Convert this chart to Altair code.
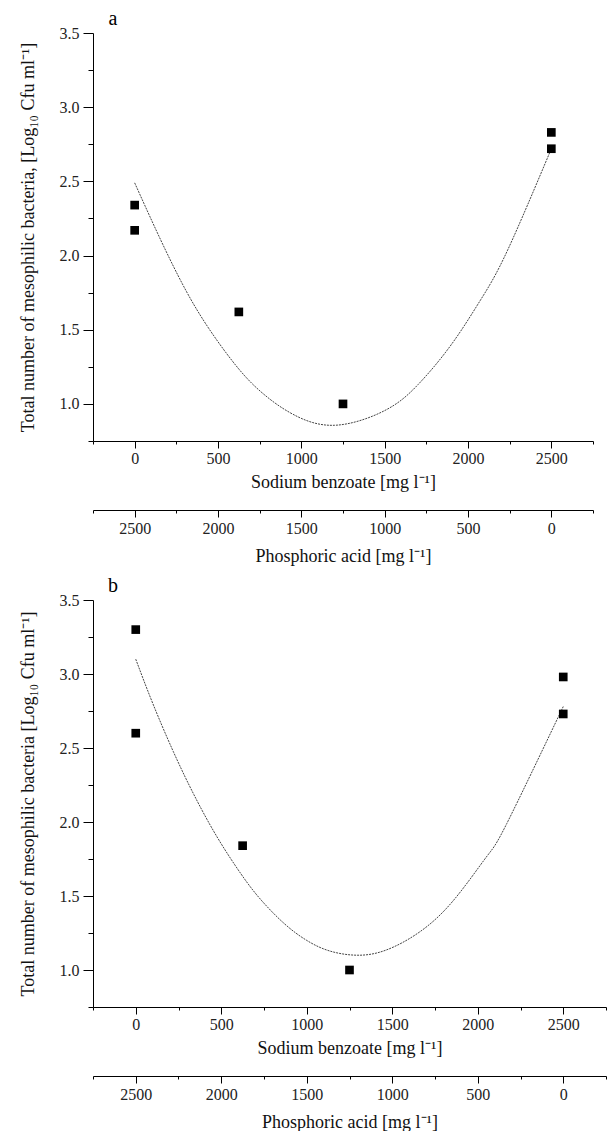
import altair as alt
import pandas as pd

# ---------------- data ----------------
# Panel a
sodium_a = [0, 0, 625, 1250, 2500, 2500]
count_a = [2.34, 2.17, 1.62, 1.00, 2.83, 2.72]
curve_a_x = [0, 150, 300, 450, 625, 775, 950, 1200, 1500, 1700, 1900, 2075, 2235, 2500]
curve_a_y = [2.49, 2.12, 1.78, 1.50, 1.235, 1.065, 0.93, 0.856, 0.955, 1.13, 1.40, 1.70, 2.03, 2.72]

# Panel b
sodium_b = [0, 0, 625, 1250, 2500, 2500]
count_b = [3.30, 2.60, 1.84, 1.00, 2.98, 2.73]
curve_b_x = [0, 100, 220, 340, 475, 615, 730, 870, 1000, 1130, 1290, 1460, 1660, 1860, 2050, 2170, 2500]
curve_b_y = [3.10, 2.80, 2.475, 2.185, 1.90, 1.65, 1.477, 1.312, 1.20, 1.13, 1.10, 1.133, 1.257, 1.473, 1.763, 1.99, 2.78]

# Axis ticks
sodium_ticks = [-250, 0, 250, 500, 750, 1000, 1250, 1500, 1750, 2000, 2250, 2500, 2750]
phos_ticks = [2750, 2500, 2250, 2000, 1750, 1500, 1250, 1000, 750, 500, 250, 0, -250]
count_ticks = [0.75, 1.0, 1.25, 1.5, 1.75, 2.0, 2.25, 2.5, 2.75, 3.0, 3.25, 3.5]

ytitle_a = "Total number of mesophilic bacteria, [Log₁₀ Cfu ml⁻¹]"
ytitle_b = "Total number of mesophilic bacteria [Log₁₀ Cfu ml⁻¹]"
xtitle = "Sodium benzoate [mg  l⁻¹]"
phostitle = "Phosphoric acid [mg  l⁻¹]"

FONT = "Liberation Serif"


def panel(sodium, counts, cx, cy, letter, ytitle, width, height):
    pts = pd.DataFrame({"sodium": sodium, "count": counts})
    crv = pd.DataFrame({"sodium": cx, "count": cy})
    phos = pd.DataFrame({"phos": phos_ticks})

    xscale = alt.Scale(domain=[-250, 2750], nice=False, zero=False)
    yscale = alt.Scale(domain=[0.75, 3.5], nice=False, zero=False)

    xaxis = alt.Axis(
        values=sodium_ticks,
        labelExpr="datum.value % 500 === 0 ? datum.label : ''",
        format="d",
        tickSize={"condition": {"test": "datum.value % 500 === 0", "value": 7}, "value": 3},
        labelPadding=2,
        titlePadding=7,
        title=xtitle,
        grid=False,
    )
    yaxis = alt.Axis(
        values=count_ticks,
        format=".1f",
        labelExpr="(datum.value * 4) % 2 === 0 ? datum.label : ''",
        tickSize={"condition": {"test": "(datum.value * 4) % 2 === 0", "value": 10}, "value": 5},
        labelPadding=4,
        titlePadding=22,
        title=ytitle,
        grid=False,
    )

    x_enc = alt.X("sodium:Q", scale=xscale, axis=xaxis)
    y_enc = alt.Y("count:Q", scale=yscale, axis=yaxis)

    line = alt.Chart(crv).mark_line(
        color="#444444", strokeWidth=1, strokeDash=[2, 1], interpolate="natural"
    ).encode(x=x_enc, y=y_enc)

    points = alt.Chart(pts).mark_square(size=75, color="black", opacity=1).encode(
        x=x_enc, y=y_enc
    )

    label = alt.Chart(pd.DataFrame({"t": [letter]})).mark_text(
        font=FONT, fontSize=20, color="black", align="center", baseline="middle"
    ).encode(text="t:N", x=alt.value(20), y=alt.value(-14))

    base = alt.layer(line, points, label)

    phos_layer = alt.Chart(phos).mark_point(opacity=0).encode(
        x=alt.X(
            "phos:Q",
            scale=alt.Scale(domain=[-250, 2750], reverse=True, nice=False, zero=False),
            axis=alt.Axis(
                orient="bottom",
                offset=69,
                values=phos_ticks,
                format="d",
                labelExpr="datum.value % 500 === 0 ? datum.label : ''",
                tickSize={"condition": {"test": "datum.value % 500 === 0", "value": 7}, "value": 3},
                labelPadding=3,
                titlePadding=11,
                title=phostitle,
                grid=False,
            ),
        ),
        y=alt.value(0),
    )

    return (
        alt.layer(base, phos_layer)
        .resolve_scale(x="independent")
        .properties(width=width, height=height)
    )


top = panel(sodium_a, count_a, curve_a_x, curve_a_y, "a", ytitle_a, 500, 408)
bottom = panel(sodium_b, count_b, curve_b_x, curve_b_y, "b", ytitle_b, 513, 407)

chart = (
    alt.vconcat(top, bottom, spacing=11)
    .properties(padding={"left": 19, "top": 9, "right": 0, "bottom": 0}, background="white")
    .configure_view(stroke=None)
    .configure_axis(
        labelFont=FONT,
        titleFont=FONT,
        labelFontSize=16,
        titleFontSize=18,
        titleFontWeight="normal",
        labelColor="#222222",
        titleColor="#111111",
        domainColor="black",
        tickColor="black",
        domainWidth=1,
        tickWidth=1,
    )
)

chart.save("out.html", embed_options={"renderer": "svg", "actions": False})
